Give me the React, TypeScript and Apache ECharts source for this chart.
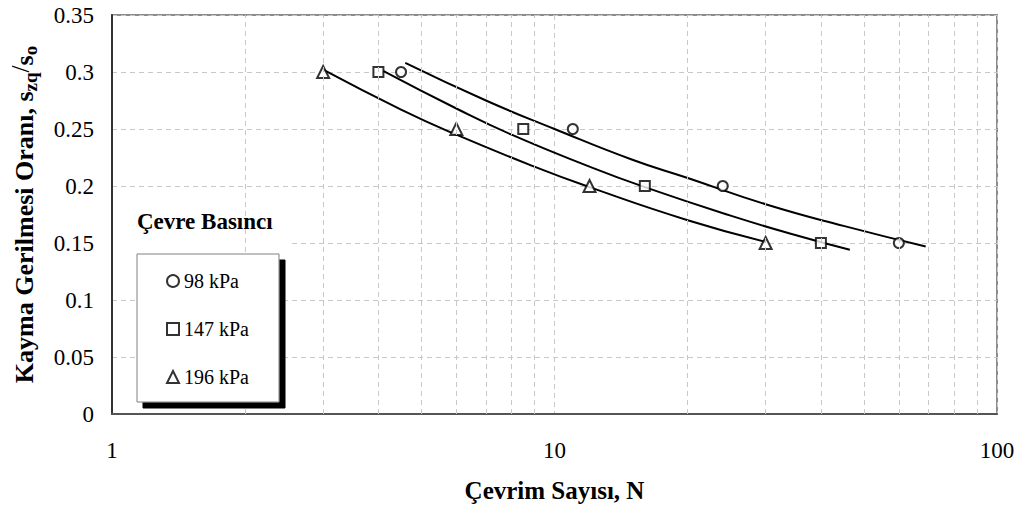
import React, { useEffect, useRef } from "react";
import * as echarts from "echarts";

// Measured points
const N98 = [4.5, 11, 24, 60];
const S98 = [0.3, 0.25, 0.2, 0.15];
const N147 = [4, 8.5, 16, 40];
const S147 = [0.3, 0.25, 0.2, 0.15];
const N196 = [3, 6, 12, 30];
const S196 = [0.3, 0.25, 0.2, 0.15];

// Trend curves
const fitN98 = [4.6, 7, 10, 15, 20, 30, 45, 69];
const fitS98 = [0.308, 0.275, 0.25, 0.223, 0.207, 0.184, 0.165, 0.147];
const fitN147 = [4.1, 6, 8, 12, 16, 25, 35, 46.5];
const fitS147 = [0.301, 0.268, 0.245, 0.217, 0.199, 0.174, 0.157, 0.144];
const fitN196 = [3, 4.5, 6, 9, 12, 20, 30];
const fitS196 = [0.302, 0.267, 0.245, 0.217, 0.199, 0.17, 0.151];

const minorGridX = [2, 3, 4, 5, 6, 7, 8, 9, 20, 30, 40, 50, 60, 70, 80, 90];
const seriesNames = ["98 kPa", "147 kPa", "196 kPa"];
const symbols = ["circle", "rect", "triangle"];

const FONT = "Liberation Serif";

const zip = (a: number[], b: number[]) => a.map((v, i) => [v, b[i]]);

export default function App() {
  const ref = useRef<HTMLDivElement>(null);
  useEffect(() => {
    if (!ref.current) return;
    const chart = echarts.init(ref.current, null, { renderer: "svg" });
    const pts = [zip(N98, S98), zip(N147, S147), zip(N196, S196)];
    const fits = [zip(fitN98, fitS98), zip(fitN147, fitS147), zip(fitN196, fitS196)];
    const option: any = {
      animation: false,
      backgroundColor: "#fff",
      textStyle: { fontFamily: FONT },
      grid: {
        left: 111,
        right: 23,
        top: 15,
        bottom: 97,
        show: true,
        borderColor: "#8c8c8c",
        borderWidth: 2,
        backgroundColor: "#fff",
      },
      xAxis: {
        type: "log",
        logBase: 10,
        min: 1,
        max: 100,
        name: "Çevrim Sayısı, N",
        nameLocation: "middle",
        nameGap: 64,
        nameTextStyle: { fontFamily: FONT, fontWeight: "bold", fontSize: 25, color: "#000" },
        axisLine: { show: true, lineStyle: { color: "#555", width: 2 } },
        axisTick: { show: false },
        axisLabel: { fontFamily: FONT, fontSize: 23, color: "#000", margin: 25 },
        splitLine: { show: true, lineStyle: { color: "#c8c8c8", type: [5, 4], width: 1 } },
      },
      yAxis: {
        type: "value",
        min: 0,
        max: 0.35,
        interval: 0.05,
        name: "{m|Kayma Gerilmesi Oranı, s}{sub|zq}{sup|/}{m|s}{sub|o}",
        nameLocation: "middle",
        nameGap: 72,
        nameTextStyle: {
          fontFamily: FONT,
          fontWeight: "bold",
          fontSize: 26,
          color: "#000",
          rich: {
            m: { fontFamily: FONT, fontWeight: "bold", fontSize: 26, lineHeight: 32, verticalAlign: "middle", color: "#000" },
            sub: { fontFamily: FONT, fontWeight: "bold", fontSize: 19, lineHeight: 16, verticalAlign: "bottom", color: "#000" },
            sup: { fontFamily: FONT, fontWeight: "normal", fontSize: 25, lineHeight: 20, verticalAlign: "top", color: "#000" },
          },
        },
        axisLine: { show: true, lineStyle: { color: "#333", width: 2 } },
        axisTick: { show: false },
        axisLabel: { fontFamily: FONT, fontSize: 23, color: "#000", margin: 18 },
        splitLine: { show: true, lineStyle: { color: "#c8c8c8", type: [5, 4], width: 1 } },
      },
      legend: {
        data: seriesNames,
        orient: "vertical",
        left: 137,
        top: 254,
        padding: [17, 30, 15, 29],
        itemGap: 28,
        itemWidth: 12,
        itemHeight: 12,
        textStyle: { fontFamily: FONT, fontSize: 20, color: "#000" },
        backgroundColor: "#fff",
        borderColor: "#808080",
        borderWidth: 1,
        shadowColor: "#000",
        shadowBlur: 0,
        shadowOffsetX: 6,
        shadowOffsetY: 6,
        z: 10,
      },
      graphic: [
        {
          type: "rect",
          shape: { x: 113, y: 200, width: 177, height: 45 },
          style: { fill: "#fff" },
          z: 5,
          silent: true,
        },
        {
          type: "text",
          left: 137,
          top: 210,
          z: 6,
          style: { text: "Çevre Basıncı", fontFamily: FONT, fontWeight: "bold", fontSize: 23, fill: "#000" },
        },
      ],
      series: [
        {
          type: "line",
          data: [],
          silent: true,
          z: 1,
          markLine: {
            silent: true,
            symbol: ["none", "none"],
            label: { show: false },
            lineStyle: { color: "#c8c8c8", type: [5, 4], width: 1 },
            emphasis: { disabled: true },
            data: minorGridX.map((v) => ({ xAxis: v })),
          },
        },
        ...fits.map((d) => ({
          type: "line",
          data: d,
          smooth: true,
          symbol: "none",
          silent: true,
          z: 3,
          lineStyle: { color: "#000", width: 2 },
        })),
        ...pts.map((d, i) => ({
          type: "scatter",
          name: seriesNames[i],
          data: d,
          symbol: symbols[i],
          symbolSize: i === 2 ? 12 : 10,
          z: 4,
          itemStyle: { color: "#fff", borderColor: "#000", borderWidth: 2 },
        })),
      ],
    };
    chart.setOption(option);
    return () => chart.dispose();
  }, []);
  return (
    <div
      ref={ref}
      style={{ position: "fixed", left: 0, top: 0, width: 1020, height: 511 }}
    />
  );
}
